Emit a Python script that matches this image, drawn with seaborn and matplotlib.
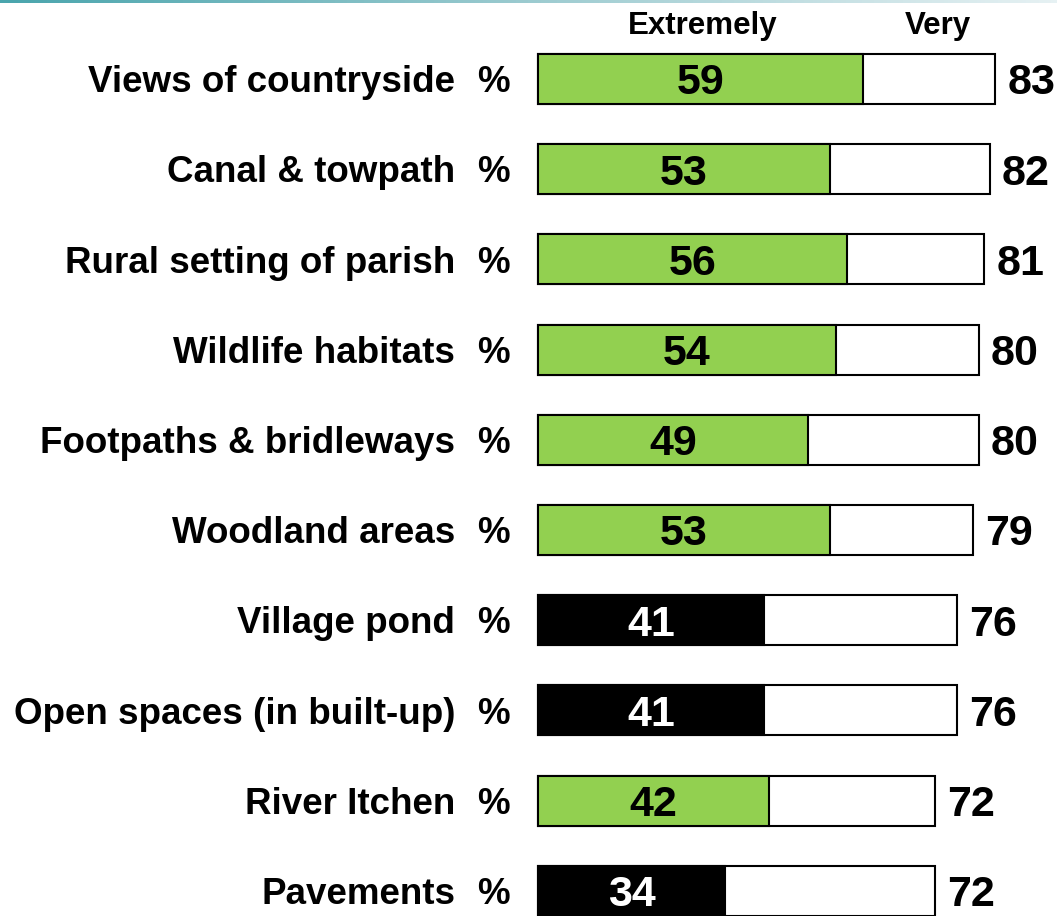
import numpy as np
import pandas as pd
import matplotlib
matplotlib.use("Agg")
import matplotlib.pyplot as plt
import matplotlib.transforms as mtransforms
from matplotlib.colors import LinearSegmentedColormap
import seaborn as sns

categories = ["Views of countryside", "Canal & towpath", "Rural setting of parish",
              "Wildlife habitats", "Footpaths & bridleways", "Woodland areas",
              "Village pond", "Open spaces (in built-up)", "River Itchen", "Pavements"]
extremely = [59, 53, 56, 54, 49, 53, 41, 41, 42, 34]
total = [83, 82, 81, 80, 80, 79, 76, 76, 72, 72]
highlight = [True, True, True, True, True, True, False, False, True, False]

GREEN = "#92D050"
BLACK = "#000000"

sns.set_theme(style="white")
plt.rcParams['font.family'] = ['Liberation Sans', 'DejaVu Sans']

W, H = 1057, 916
DPI = 100
fig = plt.figure(figsize=(W / DPI, H / DPI), dpi=DPI)

x0_px = 538
px_per_unit = 5.51
row0_px = 79
row_step = 90.2

ax = fig.add_axes([x0_px / W, 0, (W - x0_px) / W, 1])

df = pd.DataFrame({"category": categories, "extremely": extremely, "total": total,
                   "colour": [GREEN if h else BLACK for h in highlight]})
palette = dict(zip(df["category"], df["colour"]))

sns.barplot(data=df, x="total", y="category", orient="h", color="white",
            edgecolor="black", linewidth=1.5, width=0.555, ax=ax, saturation=1)
sns.barplot(data=df, x="extremely", y="category", orient="h", hue="category",
            palette=palette, edgecolor="black", linewidth=1.5, width=0.555,
            ax=ax, legend=False, saturation=1)
for p in ax.patches:
    p.set_clip_on(False)

ax.set_xlim(0, (W - x0_px) / px_per_unit)
ax.set_ylim((H - row0_px) / row_step, -row0_px / row_step)
ax.axis("off")


def base_off(fs):
    """offset (in row units) from cap-midline to baseline for a font size"""
    cap_px = 0.716 * fs * DPI / 72
    return cap_px / 2 / row_step


CAT_FS = 26.5
NUM_FS = 31
HDR_FS = 22.5

trans = mtransforms.blended_transform_factory(fig.transFigure, ax.transData)
for i, (cat, e, t, h) in enumerate(zip(categories, extremely, total, highlight)):
    ax.text(455 / W, i + base_off(CAT_FS), cat, transform=trans, ha="right",
            va="baseline", fontsize=CAT_FS, fontweight="bold", color="black")
    ax.text(493 / W, i + base_off(CAT_FS), "%", transform=trans, ha="center",
            va="baseline", fontsize=CAT_FS, fontweight="bold", color="black")
    ax.text(e / 2, i + base_off(NUM_FS), str(e), ha="center", va="baseline",
            fontsize=NUM_FS, fontweight="bold", color="black" if h else "white")
    ax.text(t + 2.2, i + base_off(NUM_FS), str(t), ha="left", va="baseline",
            fontsize=NUM_FS, fontweight="bold", color="black")

hdr_y = (22.5 - row0_px) / row_step + base_off(HDR_FS)
ax.text(29.9, hdr_y, "Extremely", ha="center", va="baseline", fontsize=HDR_FS,
        fontweight="bold", color="black")
ax.text(72.6, hdr_y, "Very", ha="center", va="baseline", fontsize=HDR_FS,
        fontweight="bold", color="black")

# top gradient rule
gax = fig.add_axes([0, 1 - 3 / H, 1, 3 / H])
cmap = LinearSegmentedColormap.from_list("g", ["#4AA5AD", "#9CCBD0", "#E6F1F3"])
gax.imshow(np.linspace(0, 1, 256)[None, :], aspect="auto", cmap=cmap)
gax.axis("off")

fig.savefig("out.png", dpi=DPI)
